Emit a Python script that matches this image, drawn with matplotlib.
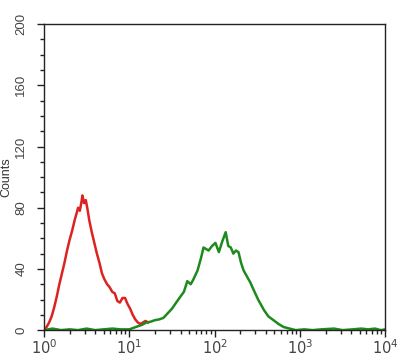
import numpy as np
import matplotlib
matplotlib.use("Agg")
import matplotlib.pyplot as plt
from matplotlib.ticker import LogLocator, MultipleLocator

plt.rcParams['font.family'] = ['Liberation Sans', 'DejaVu Sans']

# --- histogram traces, x given as log10(fluorescence) ---
red_exp = [0.00, 0.03, 0.06, 0.09, 0.12, 0.15, 0.18, 0.21, 0.24, 0.27, 0.30, 0.33,
           0.36, 0.38, 0.40, 0.42, 0.44, 0.45, 0.47, 0.49, 0.51, 0.53, 0.56, 0.59,
           0.62, 0.65, 0.68, 0.71, 0.74, 0.77, 0.80, 0.83, 0.86, 0.89, 0.92, 0.95,
           0.98, 1.01, 1.04, 1.07, 1.10, 1.13, 1.16, 1.19, 1.22]
red_cnt = [0, 2, 5, 9, 15, 22, 30, 37, 44, 52, 59, 65,
           72, 76, 80, 78, 84, 88, 83, 85, 79, 72, 64, 57,
           50, 44, 37, 33, 30, 28, 25, 24, 19, 18, 21, 21,
           17, 14, 10, 7, 5, 4, 5, 6, 5]

green_exp = [0.00, 0.10, 0.20, 0.30, 0.40, 0.50, 0.60, 0.70, 0.80, 0.90,
             1.00, 1.05, 1.10, 1.15, 1.20, 1.25, 1.30, 1.35, 1.40, 1.45, 1.50,
             1.55, 1.60, 1.64, 1.68, 1.72, 1.75, 1.80, 1.84, 1.87, 1.90, 1.93,
             1.97, 2.01, 2.05, 2.09, 2.13, 2.16, 2.19, 2.22, 2.25, 2.28, 2.31,
             2.34, 2.38, 2.42, 2.46, 2.51, 2.55, 2.58, 2.63, 2.69, 2.75, 2.81,
             2.88, 2.95, 3.05, 3.15, 3.25, 3.40, 3.50, 3.62, 3.72, 3.80, 3.88,
             3.95, 4.00]
green_cnt = [0, 1, 0, 0.5, 0, 1, 0, 0.5, 1, 0.5,
             0.5, 1.5, 2.5, 3.5, 5, 5.5, 6.5, 7, 8, 11, 14,
             18, 22, 25, 32, 30, 33, 39, 47, 54, 53, 52,
             55, 57, 51, 58, 64, 55, 54, 50, 52, 51, 44,
             39, 35, 31, 26, 20, 16, 13, 9, 6.5, 4, 2,
             1, 0, 0.5, 0, 0.5, 1, 0, 0.5, 1, 0.5, 1,
             0, 0.5]

y_major = [0, 40, 80, 120, 160, 200]
x_labels = [r"$10^0$", r"$10^1$", r"$10^2$", r"$10^3$", r"$10^4$"]

fig = plt.figure(figsize=(4, 3.6), dpi=100)
ax = fig.add_axes([0.11, 0.083, 0.853, 0.85])

ax.plot(10 ** np.array(red_exp), red_cnt, color="#dd2222", lw=1.8)
ax.plot(10 ** np.array(green_exp), green_cnt, color="#1e8a1e", lw=1.8)

ax.set_xscale("log")
ax.set_xlim(1, 1e4)
ax.set_ylim(0, 200)
ax.set_xticks([1, 10, 100, 1000, 10000])
ax.set_xticklabels(x_labels, fontsize=10.5)
ax.xaxis.set_minor_locator(LogLocator(base=10, subs=np.arange(2, 10), numticks=20))
ax.set_yticks(y_major)
ax.set_yticklabels([str(v) for v in y_major], fontsize=9.5, rotation=90, va="center")
ax.yaxis.set_minor_locator(MultipleLocator(10))
ax.tick_params(axis="both", which="major", direction="out", length=5, width=1,
               color="#222222", labelcolor="#444444")
ax.tick_params(axis="both", which="minor", direction="out", length=3, width=1, color="#222222")
ax.tick_params(axis="x", pad=1)
ax.tick_params(axis="y", pad=7)
ax.set_ylabel("Counts", fontsize=9, color="#333333", labelpad=2)
for s in ax.spines.values():
    s.set_linewidth(1)
    s.set_color("#222222")

fig.savefig("out.png", dpi=100)
